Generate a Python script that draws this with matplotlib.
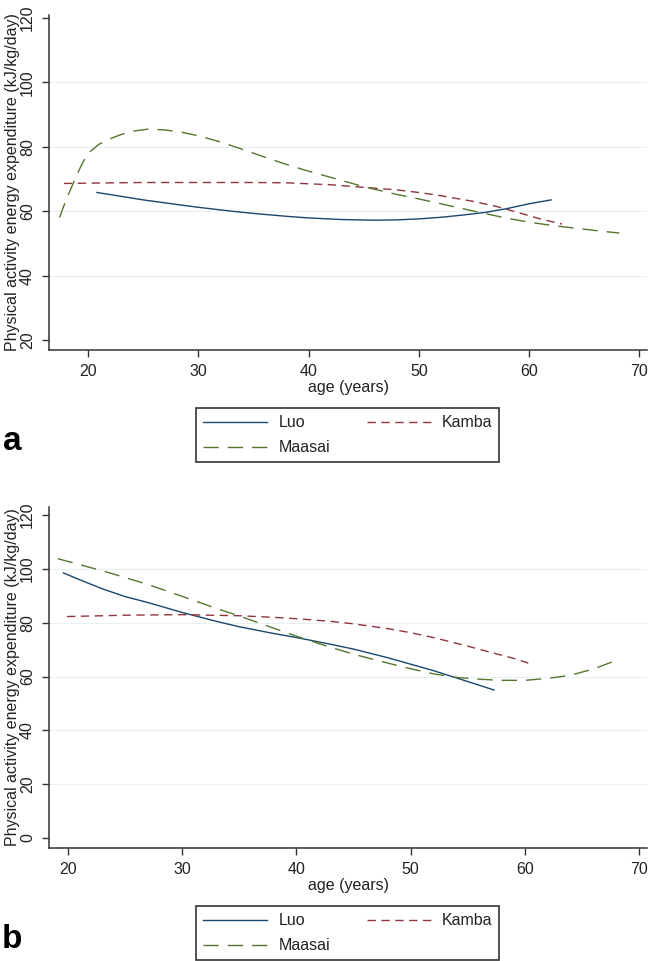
import matplotlib.pyplot as plt

plt.rcParams['font.family'] = ['Liberation Sans', 'DejaVu Sans']
plt.rcParams['lines.scale_dashes'] = False

# Panel a
luo_a_age = [20.8, 23, 25, 28, 30, 33, 35, 38, 40, 43, 46, 48, 50, 52, 54, 56, 58, 60, 62]
luo_a_paee = [65.8, 64.6, 63.5, 62.1, 61.2, 60.0, 59.3, 58.4, 57.9, 57.4, 57.2, 57.3, 57.6,
              58.1, 58.8, 59.6, 60.8, 62.3, 63.5]
kamba_a_age = [17.8, 20, 25, 30, 35, 38, 40, 42, 45, 48, 50, 52, 55, 57, 59, 61, 63]
kamba_a_paee = [68.6, 68.7, 68.9, 68.9, 68.9, 68.8, 68.5, 68.2, 67.4, 66.6, 65.8, 64.8,
                63.0, 61.5, 59.6, 57.6, 56.0]
maasai_a_age = [17.4, 18, 18.5, 19, 19.5, 20, 21, 22, 23, 24, 25.5, 27, 28.5, 30, 32, 34, 36,
                38, 40, 42, 45, 48, 50, 52, 55, 58, 60, 62, 64, 66, 68.2]
maasai_a_paee = [58.0, 63.5, 67.5, 71.5, 75.0, 78.0, 80.8, 82.5, 83.8, 84.8, 85.5, 85.2, 84.5,
                 83.4, 81.5, 79.2, 76.8, 74.5, 72.4, 70.5, 67.6, 65.2, 63.8, 62.3, 60.0, 57.8,
                 56.6, 55.6, 54.8, 54.0, 53.2]

# Panel b
luo_b_age = [19.6, 21, 23, 25, 27, 30, 33, 35, 38, 40, 43, 45, 48, 50, 52, 54, 56, 57.3]
luo_b_paee = [98.5, 96.0, 92.6, 89.7, 87.5, 83.8, 80.5, 78.5, 76.0, 74.5, 72.0, 70.2, 67.0,
              64.6, 62.2, 59.5, 56.8, 55.0]
kamba_b_age = [19.9, 22, 25, 30, 35, 38, 40, 43, 45, 48, 50, 52, 55, 57, 59, 60.3]
kamba_b_paee = [82.3, 82.5, 82.8, 83.0, 82.6, 82.0, 81.5, 80.5, 79.6, 77.8, 76.3, 74.5, 71.3,
                69.0, 66.8, 65.0]
maasai_b_age = [19.1, 21, 23, 25, 27, 30, 33, 35, 38, 40, 42, 45, 48, 50, 52, 54, 56, 58, 60,
                62, 64, 66, 68.2]
maasai_b_paee = [103.8, 101.6, 99.3, 96.8, 94.2, 89.8, 85.3, 82.5, 78.0, 75.0, 72.2, 68.3,
                 65.0, 62.9, 61.0, 59.7, 59.0, 58.6, 58.6, 59.3, 60.5, 62.8, 66.3]

x_ticks = [20, 30, 40, 50, 60, 70]
y_ticks_a = [20, 40, 60, 80, 100, 120]
y_ticks_b = [0, 20, 40, 60, 80, 100, 120]

luo_col = '#1a476f'
kamba_col = '#90353b'
maasai_col = '#55752f'
tekst = '#222222'
akse = '#333333'

W = 648.0
H = 961.0


def tegn_panel(ax, data, y_ticks, xlim, ylim, panel, legend_top):
    # gridlinjer bare på de indre tickene (som Stata)
    for y in y_ticks[1:-1]:
        ax.axhline(y, color='#e8f0f2', lw=0.8, zorder=0)

    l1, = ax.plot(data[0], data[1], color=luo_col, lw=1.0, label='Luo')
    l2, = ax.plot(data[2], data[3], color=kamba_col, lw=1.0, ls=(0, (6, 4)), label='Kamba')
    l3, = ax.plot(data[4], data[5], color=maasai_col, lw=1.0, ls=(0, (11, 6.5)), label='Maasai')

    ax.set_xlim(xlim)
    ax.set_ylim(ylim)
    ax.set_xticks(x_ticks)
    ax.set_yticks(y_ticks)
    ax.set_yticklabels([str(y) for y in y_ticks], rotation=90, ha='center', va='center')
    ax.spines['top'].set_visible(False)
    ax.spines['right'].set_visible(False)
    for s in ['left', 'bottom']:
        ax.spines[s].set_color(akse)
        ax.spines[s].set_linewidth(1.1)
    ax.tick_params(axis='both', length=5, width=1.0, color=akse, labelcolor=tekst,
                   labelsize=11.5)
    ax.tick_params(axis='x', pad=5)
    ax.tick_params(axis='y', pad=10.5)

    ax.set_xlabel('age (years)', fontsize=11.5, color=tekst, labelpad=1)
    ax.set_ylabel('Physical activity energy expenditure (kJ/kg/day)', fontsize=11.5,
                  color=tekst)
    ax.yaxis.set_label_coords(-0.048, 0.5)

    # rekkefølge slik at Luo, Kamba står på første rad
    leg = ax.legend([l1, l3, l2], ['Luo', 'Maasai', 'Kamba'], ncol=2,
                    loc='upper left', bbox_to_anchor=(196 / W, 1 - legend_top / H),
                    bbox_transform=fig.transFigure, fontsize=11.5, frameon=True,
                    fancybox=False, framealpha=1, edgecolor=akse, borderaxespad=0,
                    handlelength=4.0, handletextpad=0.7, columnspacing=2.3,
                    labelspacing=0.62, borderpad=0.45)
    leg.get_frame().set_linewidth(1.2)
    for t in leg.get_texts():
        t.set_color(tekst)

    fig.text(12 / W, 1 - (legend_top + 33) / H, panel, fontsize=24, fontweight='bold',
             ha='center', va='center', color='black')


fig = plt.figure(figsize=(6.48, 9.61), dpi=100)

ax_a = fig.add_axes([49 / W, 1 - 350 / H, 598 / W, 335 / H])
tegn_panel(ax_a, [luo_a_age, luo_a_paee, kamba_a_age, kamba_a_paee, maasai_a_age, maasai_a_paee],
           y_ticks_a, (16.45, 70.7), (16.9, 120.9), 'a', 408)

ax_b = fig.add_axes([49 / W, 1 - 848 / H, 598 / W, 341 / H])
tegn_panel(ax_b, [luo_b_age, luo_b_paee, kamba_b_age, kamba_b_paee, maasai_b_age, maasai_b_paee],
           y_ticks_b, (18.33, 70.7), (-3.7, 123.0), 'b', 906)

fig.savefig('out.png', dpi=100)
